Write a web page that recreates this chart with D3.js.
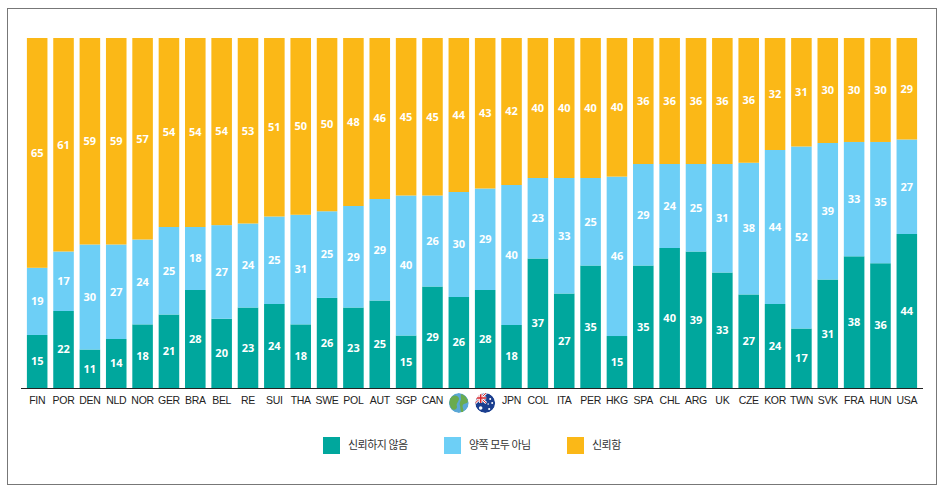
<!DOCTYPE html>
<html>
<head>
<meta charset="utf-8">
<script src="https://cdn.jsdelivr.net/npm/d3@7"></script>
<style>
  body { margin: 0; background: #fff; }
  .value { fill: #fff; font-family: "Open Sans", "Noto Sans", sans-serif; font-weight: 700; font-size: 11px; }
  .tick-label { fill: #222; font-family: "Liberation Sans Narrow", "Arial Narrow", "Liberation Sans", sans-serif; font-size: 10.5px; letter-spacing: -0.3px; }
  .legend-text { fill: #333; font-family: "Noto Sans CJK KR", sans-serif; font-size: 11px; letter-spacing: -0.5px; }
</style>
</head>
<body>
<svg id="chart"></svg>
<script>
// categories ("GLOBAL" and "AUS" are drawn as icons)
const countries = ["FIN","POR","DEN","NLD","NOR","GER","BRA","BEL","RE","SUI","THA","SWE","POL","AUT","SGP","CAN","GLOBAL","AUS","JPN","COL","ITA","PER","HKG","SPA","CHL","ARG","UK","CZE","KOR","TWN","SVK","FRA","HUN","USA"];
const distrust = [15,22,11,14,18,21,28,20,23,24,18,26,23,25,15,29,26,28,18,37,27,35,15,35,40,39,33,27,24,17,31,38,36,44];
const neither  = [19,17,30,27,24,25,18,27,24,25,31,25,29,29,40,26,30,29,40,23,33,25,46,29,24,25,31,38,44,52,39,33,35,27];
const trust    = [65,61,59,59,57,54,54,54,53,51,50,50,48,46,45,45,44,43,42,40,40,40,40,36,36,36,36,36,32,31,30,30,30,29];
const seriesKeys = ["distrust","neither","trust"];
const seriesNames = ["신뢰하지 않음","양쪽 모두 아님","신뢰함"];
const colors = ["#00a79d","#6dcff6","#fbb817"];

const W = 947, H = 492;
const svg = d3.select("#chart").attr("width", W).attr("height", H);

// frame
svg.append("rect")
  .attr("x", 7.5).attr("y", 8.5).attr("width", 929).attr("height", 476)
  .attr("fill", "none").attr("stroke", "#777").attr("stroke-width", 1);

const rows = countries.map((c, i) => ({country: c, distrust: distrust[i], neither: neither[i], trust: trust[i]}));
const stacked = d3.stack().keys(seriesKeys).offset(d3.stackOffsetExpand)(rows);

const x = d3.scaleBand().domain(countries).range([24, 920]).paddingInner(0.22).paddingOuter(0.11);
const y = d3.scaleLinear().domain([0, 1]).range([388, 38]);
const color = d3.scaleOrdinal().domain(seriesKeys).range(colors);

const layers = svg.append("g").selectAll("g")
  .data(stacked)
  .join("g")
  .attr("fill", d => color(d.key));

layers.selectAll("rect")
  .data(d => d)
  .join("rect")
  .attr("x", d => x(d.data.country))
  .attr("y", d => y(d[1]))
  .attr("width", x.bandwidth())
  .attr("height", d => y(d[0]) - y(d[1]));

// values in the middle of each segment
const labels = svg.append("g");
stacked.forEach(layer => {
  labels.selectAll(null)
    .data(layer)
    .join("text")
    .attr("class", "value")
    .attr("x", d => x(d.data.country) + x.bandwidth() / 2)
    .attr("y", d => y((d[0] + d[1]) / 2))
    .attr("dy", "0.35em")
    .attr("text-anchor", "middle")
    .text(d => d.data[layer.key]);
});

// x axis
const xAxis = d3.axisBottom(x).tickSize(0).tickPadding(9)
  .tickFormat(d => (d === "GLOBAL" || d === "AUS") ? "" : d);
const axisG = svg.append("g").attr("transform", "translate(0,388)").call(xAxis);
axisG.select(".domain").attr("d", "M21,0.5H923").attr("stroke", "#222").attr("stroke-width", 1.2);
axisG.selectAll(".tick text").attr("class", "tick-label").attr("fill", null).attr("font-family", null).attr("font-size", null);

// icons
const iconY = 403, r = 10;
const defs = svg.append("defs");
const gx = x("GLOBAL") + x.bandwidth() / 2;
const ax = x("AUS") + x.bandwidth() / 2;

defs.append("clipPath").attr("id", "clipGlobe")
  .append("circle").attr("cx", gx).attr("cy", iconY).attr("r", r);
defs.append("clipPath").attr("id", "clipAus")
  .append("circle").attr("cx", ax).attr("cy", iconY).attr("r", r);

const globe = svg.append("g").attr("clip-path", "url(#clipGlobe)");
globe.append("circle").attr("cx", gx).attr("cy", iconY).attr("r", r).attr("fill", "#5aa7d6");
globe.append("path")
  .attr("transform", `translate(${gx},${iconY})`)
  .attr("d", "M-9,-4 C-6,-9 -1,-8 0,-5 C1,-2 -3,0 -2,3 C-1,6 -5,8 -7,6 C-9,3 -10,0 -9,-4 Z M2,-9 C6,-8 9,-5 9,-1 C8,1 5,0 4,2 C3,5 6,7 4,9 C1,10 2,5 1,2 C0,-1 3,-3 2,-5 Z")
  .attr("fill", "#6aab4f");

const aus = svg.append("g").attr("clip-path", "url(#clipAus)");
aus.append("circle").attr("cx", ax).attr("cy", iconY).attr("r", r).attr("fill", "#1b3f8f");
const uj = aus.append("g").attr("transform", `translate(${ax - 10},${iconY - 10})`);
uj.append("path").attr("d", "M0,0 L11,10 M11,0 L0,10").attr("stroke", "#fff").attr("stroke-width", 2.5);
uj.append("path").attr("d", "M0,0 L11,10 M11,0 L0,10").attr("stroke", "#d8232a").attr("stroke-width", 1);
uj.append("path").attr("d", "M5.5,0 V10 M0,5 H11").attr("stroke", "#fff").attr("stroke-width", 3.2);
uj.append("path").attr("d", "M5.5,0 V10 M0,5 H11").attr("stroke", "#d8232a").attr("stroke-width", 1.6);
[[ax - 4.5, iconY + 5, 1.8], [ax + 5, iconY - 4, 1], [ax + 7, iconY, 1], [ax + 4, iconY + 6, 1.1], [ax + 3, iconY + 1, 0.8]].forEach(s => {
  aus.append("circle").attr("cx", s[0]).attr("cy", s[1]).attr("r", s[2]).attr("fill", "#fff");
});

// legend
const legendX = [323, 444, 567];
const legend = svg.append("g").selectAll("g")
  .data(seriesKeys)
  .join("g")
  .attr("transform", (d, i) => `translate(${legendX[i]},437)`);
legend.append("rect").attr("width", 17).attr("height", 17).attr("fill", d => color(d));
legend.append("text")
  .attr("class", "legend-text")
  .attr("x", 25).attr("y", 8.5).attr("dy", "0.35em")
  .text((d, i) => seriesNames[i]);
</script>
</body>
</html>
